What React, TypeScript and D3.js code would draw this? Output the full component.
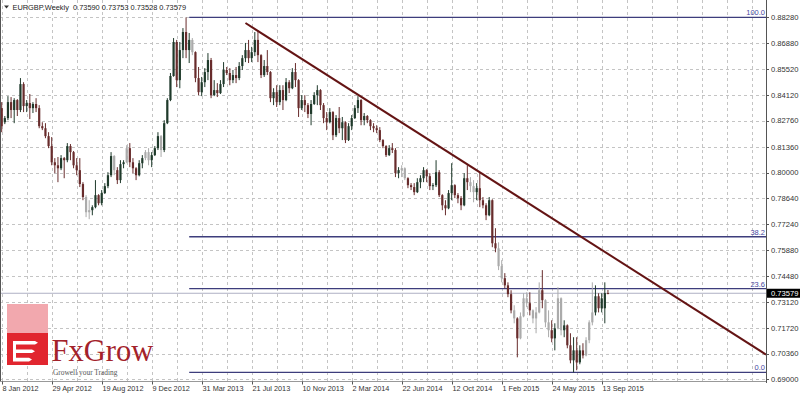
import React from "react";
import * as d3 from "d3";

// ---- Data (EURGBP weekly) ----
const opens = [0.8343,0.8268,0.8290,0.8375,0.8333,0.8386,0.8333,0.8471,0.8354,0.8370,0.8343,0.8365,0.8343,0.8247,0.8236,0.8194,0.8141,0.8055,0.8039,0.8023,0.8077,0.8066,0.8141,0.8109,0.8039,0.8013,0.7939,0.7870,0.7789,0.7800,0.7816,0.7880,0.7837,0.7891,0.7928,0.7986,0.8088,0.8013,0.7960,0.8045,0.8055,0.8130,0.8055,0.8023,0.7986,0.8050,0.8077,0.8109,0.8066,0.8093,0.8130,0.8194,0.8120,0.8263,0.8386,0.8514,0.8695,0.8492,0.8652,0.8748,0.8652,0.8706,0.8641,0.8503,0.8428,0.8481,0.8535,0.8599,0.8412,0.8439,0.8423,0.8471,0.8546,0.8530,0.8492,0.8519,0.8503,0.8567,0.8609,0.8652,0.8609,0.8641,0.8706,0.8625,0.8519,0.8567,0.8535,0.8396,0.8428,0.8375,0.8439,0.8386,0.8481,0.8449,0.8535,0.8492,0.8343,0.8386,0.8359,0.8312,0.8365,0.8412,0.8439,0.8359,0.8290,0.8268,0.8322,0.8199,0.8290,0.8236,0.8268,0.8173,0.8247,0.8290,0.8343,0.8386,0.8279,0.8301,0.8279,0.8247,0.8236,0.8226,0.8173,0.8141,0.8093,0.8130,0.8120,0.7997,0.8013,0.8023,0.7970,0.7933,0.7923,0.7896,0.7949,0.7970,0.8013,0.7981,0.7928,0.7933,0.8002,0.7880,0.7826,0.7810,0.7891,0.7933,0.7880,0.7864,0.7826,0.7970,0.7949,0.7928,0.7896,0.7917,0.7853,0.7826,0.7773,0.7853,0.7624,0.7597,0.7502,0.7438,0.7400,0.7353,0.7267,0.7224,0.7118,0.7235,0.7331,0.7305,0.7267,0.7224,0.7256,0.7374,0.7321,0.7203,0.7161,0.7118,0.7171,0.7331,0.7161,0.7187,0.7081,0.7001,0.7054,0.6990,0.7054,0.7027,0.7108,0.7203,0.7256,0.7342,0.7278,0.7278,0.73590];
const highs = [0.8375,0.8301,0.8407,0.8402,0.8396,0.8391,0.8503,0.8481,0.8386,0.8418,0.8375,0.8396,0.8359,0.8268,0.8263,0.8215,0.8189,0.8077,0.8083,0.8093,0.8083,0.8157,0.8152,0.8115,0.8077,0.8077,0.7949,0.7880,0.7853,0.7826,0.7960,0.7885,0.7907,0.7944,0.8002,0.8109,0.8093,0.8029,0.8066,0.8066,0.8146,0.8157,0.8077,0.8029,0.8066,0.8093,0.8120,0.8130,0.8109,0.8141,0.8215,0.8200,0.8279,0.8396,0.8530,0.8716,0.8706,0.8695,0.8769,0.8826,0.8743,0.8716,0.8645,0.8562,0.8509,0.8556,0.8636,0.8610,0.8492,0.8476,0.8492,0.8588,0.8562,0.8556,0.8546,0.8562,0.8588,0.8625,0.8690,0.8706,0.8669,0.8748,0.8759,0.8630,0.8599,0.8652,0.8540,0.8449,0.8465,0.8465,0.8465,0.8503,0.8492,0.8556,0.8583,0.8497,0.8412,0.8412,0.8370,0.8386,0.8428,0.8465,0.8444,0.8370,0.8322,0.8343,0.8327,0.8306,0.8349,0.8296,0.8273,0.8263,0.8306,0.8359,0.8407,0.8391,0.8317,0.8306,0.8284,0.8263,0.8252,0.8242,0.8178,0.8146,0.8146,0.8157,0.8130,0.8029,0.8039,0.8028,0.7975,0.7944,0.7944,0.7970,0.7986,0.8029,0.8018,0.7997,0.7944,0.8066,0.8013,0.7885,0.7853,0.7907,0.8050,0.7938,0.7891,0.7875,0.7997,0.8039,0.7976,0.7960,0.7944,0.8002,0.7870,0.7837,0.7870,0.7858,0.7704,0.7629,0.7534,0.7465,0.7416,0.7374,0.7294,0.7230,0.7256,0.7358,0.7363,0.7363,0.7272,0.7284,0.7416,0.7481,0.7326,0.7267,0.7214,0.7198,0.7390,0.7336,0.7214,0.7192,0.7145,0.7124,0.7124,0.7081,0.7092,0.7124,0.7214,0.7416,0.7400,0.7358,0.7358,0.7416,0.73753];
const lows = [0.8215,0.8258,0.8279,0.8290,0.8263,0.8301,0.8322,0.8322,0.8322,0.8285,0.8317,0.8322,0.8236,0.8226,0.8183,0.8130,0.8039,0.7997,0.7949,0.8013,0.7970,0.8055,0.8066,0.8023,0.7986,0.7923,0.7853,0.7763,0.7752,0.7773,0.7810,0.7826,0.7826,0.7886,0.7917,0.7976,0.7986,0.7939,0.7944,0.8023,0.8050,0.8029,0.7997,0.7960,0.7980,0.8023,0.8066,0.8039,0.8029,0.8088,0.8120,0.8083,0.8109,0.8258,0.8380,0.8510,0.8455,0.8449,0.8609,0.8609,0.8583,0.8625,0.8481,0.8412,0.8407,0.8455,0.8492,0.8396,0.8407,0.8402,0.8418,0.8455,0.8519,0.8465,0.8476,0.8476,0.8492,0.8546,0.8588,0.8583,0.8588,0.8620,0.8588,0.8503,0.8509,0.8519,0.8375,0.8359,0.8349,0.8359,0.8333,0.8380,0.8423,0.8444,0.8455,0.8296,0.8333,0.8322,0.8290,0.8252,0.8360,0.8359,0.8333,0.8263,0.8226,0.8262,0.8173,0.8189,0.8210,0.8173,0.8157,0.8168,0.8226,0.8285,0.8317,0.8252,0.8252,0.8263,0.8226,0.8215,0.8210,0.8162,0.8130,0.8083,0.8088,0.8104,0.7976,0.7970,0.7976,0.7960,0.7917,0.7907,0.7880,0.7891,0.7917,0.7949,0.7949,0.7907,0.7907,0.7923,0.7870,0.7800,0.7773,0.7805,0.7853,0.7864,0.7837,0.7800,0.7821,0.7907,0.7896,0.7842,0.7853,0.7816,0.7810,0.7747,0.7768,0.7603,0.7576,0.7481,0.7416,0.7384,0.7337,0.7251,0.7198,0.7017,0.7113,0.7230,0.7284,0.7240,0.7198,0.7145,0.7251,0.7278,0.7177,0.7124,0.7097,0.7054,0.7166,0.7134,0.7124,0.7065,0.6985,0.6937,0.6948,0.6980,0.7011,0.7022,0.7092,0.7187,0.7240,0.7256,0.7256,0.7198,0.73528];
const closes = [0.8247,0.8290,0.8375,0.8333,0.8386,0.8333,0.8471,0.8354,0.8370,0.8343,0.8365,0.8343,0.8247,0.8236,0.8194,0.8141,0.8055,0.8039,0.8023,0.8077,0.8066,0.8141,0.8109,0.8039,0.8013,0.7939,0.7870,0.7789,0.7800,0.7816,0.7880,0.7837,0.7891,0.7928,0.7986,0.8088,0.8013,0.7960,0.8045,0.8055,0.8130,0.8055,0.8023,0.7986,0.8050,0.8077,0.8109,0.8066,0.8093,0.8130,0.8194,0.8120,0.8263,0.8386,0.8514,0.8695,0.8492,0.8652,0.8748,0.8652,0.8706,0.8641,0.8503,0.8428,0.8481,0.8535,0.8599,0.8412,0.8439,0.8423,0.8471,0.8546,0.8530,0.8492,0.8519,0.8503,0.8567,0.8609,0.8652,0.8609,0.8641,0.8706,0.8625,0.8519,0.8567,0.8535,0.8396,0.8428,0.8375,0.8439,0.8386,0.8481,0.8449,0.8535,0.8492,0.8343,0.8386,0.8359,0.8312,0.8365,0.8412,0.8439,0.8359,0.8290,0.8268,0.8322,0.8199,0.8290,0.8236,0.8268,0.8173,0.8247,0.8290,0.8343,0.8386,0.8279,0.8301,0.8279,0.8247,0.8236,0.8226,0.8173,0.8141,0.8093,0.8130,0.8120,0.7997,0.8013,0.8023,0.7970,0.7933,0.7923,0.7896,0.7949,0.7970,0.8013,0.7981,0.7928,0.7933,0.8002,0.7880,0.7826,0.7810,0.7891,0.7933,0.7880,0.7864,0.7826,0.7970,0.7949,0.7928,0.7896,0.7917,0.7853,0.7826,0.7773,0.7853,0.7624,0.7597,0.7502,0.7438,0.7400,0.7353,0.7267,0.7224,0.7118,0.7235,0.7331,0.7305,0.7267,0.7224,0.7256,0.7374,0.7321,0.7203,0.7161,0.7118,0.7171,0.7331,0.7161,0.7187,0.7081,0.7001,0.7054,0.6990,0.7054,0.7027,0.7108,0.7203,0.7256,0.7342,0.7278,0.7331,0.7359,0.73579];

const priceTicks = [0.8828, 0.8688, 0.8552, 0.8412, 0.8276, 0.8136, 0.8, 0.7864, 0.7724, 0.7588, 0.7448, 0.7312, 0.7172, 0.7036, 0.69];
const dateLabels = ["8 Jan 2012", "29 Apr 2012", "19 Aug 2012", "9 Dec 2012", "31 Mar 2013", "21 Jul 2013", "10 Nov 2013", "2 Mar 2014", "22 Jun 2014", "12 Oct 2014", "1 Feb 2015", "24 May 2015", "13 Sep 2015"];
const dateLabelBars = [0, 16, 32, 48, 64, 80, 96, 112, 128, 144, 160, 176, 192];

const fibLevels = [0, 23.6, 38.2, 100];
const fibLabels = ["0.0", "23.6", "38.2", "100.0"];
const fibHighBar = 59;
const fibLowBar = 183;
const fibStartBar = 60;

const trendBars = [78, 149];
const trendPrices = [0.8796, 0.8044];

const lastPrice = 0.73579;
const titleText = "EURGBP,Weekly  0.73590 0.73753 0.73528 0.73579";

// bars drawn lighter (watermark effect in the original)
const fadedBars = [27, 28, 36, 40, 46, 47, 51, 61, 128, 129, 150, 151, 159, 160, 164, 166, 167, 168, 170, 171, 172, 174, 175, 178, 179, 187, 188, 189];

const FONT = "'Liberation Sans', Arial, sans-serif";
const SERIF = "'Liberation Serif', 'DejaVu Serif', serif";

export default function App() {
  const W = 800, H = 395;
  const plotRight = 766;
  const plotBottom = 381.5;

  const x = d3.scaleLinear().domain([0, 192]).range([1.7, 601.7]);
  const y = d3.scaleLinear().domain([0.69, 0.8828]).range([379.3, 17]);

  const gridBars = d3.range(0, Math.floor(x.invert(plotRight)) + 1, 8);
  const faded = new Set(fadedBars);

  const fibHigh = highs[fibHighBar];
  const fibLow = lows[fibLowBar];

  const endBar = x.invert(plotRight);
  const slope = (trendPrices[1] - trendPrices[0]) / (trendBars[1] - trendBars[0]);
  const trendEndPrice = trendPrices[0] + slope * (endBar - trendBars[0]);

  const bullCol = "#1f3a2b";
  const bearCol = "#682c2c";
  const fadeCol = "#ababab";
  const bodyW = 2.2;

  return (
    <svg width={W} height={H} style={{ position: "fixed", left: 0, top: 0, background: "#fff" }}>
      <rect x={0} y={0} width={W} height={H} fill="#fff" />
      {/* horizontal grid */}
      {priceTicks.map((t, i) => (
        <line key={"hg" + i} x1={0} x2={plotRight} y1={Math.round(y(t)) + 0.5} y2={Math.round(y(t)) + 0.5}
          stroke="#c4c4c4" strokeWidth={1} strokeDasharray="3,3" />
      ))}
      {/* vertical grid */}
      {gridBars.map((b) => (
        <line key={"vg" + b} x1={Math.round(x(b)) + 0.5} x2={Math.round(x(b)) + 0.5} y1={0} y2={plotBottom}
          stroke="#c4c4c4" strokeWidth={1} strokeDasharray="3,3" />
      ))}

      {/* logo */}
      <g>
        <rect x={7} y={304} width={41} height={29} fill="#f2a8ae" />
        <rect x={7} y={333} width={41} height={32} fill="#e1262f" />
        <path d="M13,341 L35,341 L38,342.8 L35,344.6 L16,344.6 L16,349.4 L32,349.4 L35,351.2 L32,353 L16,353 L16,357.8 L29,357.8 L32,359.6 L29,361.4 L13,361.4 Z" fill="#fff" />
        <text x={51.5} y={361} fontFamily={SERIF} fontSize={30.5} fill="#a3222a">FxGrow</text>
        <text x={53} y={375} fontFamily={SERIF} fontSize={7.4} fill="#555">Growell your Trading</text>
      </g>

      {/* fibonacci levels */}
      {fibLevels.map((lv, i) => {
        const p = fibLow + (fibHigh - fibLow) * lv / 100;
        const yy = y(p);
        return (
          <g key={"fib" + i}>
            <line x1={x(fibStartBar)} x2={plotRight} y1={yy} y2={yy} stroke="#3d3d7c" strokeWidth={1.3} />
            <text x={plotRight - 1} y={yy - 2} textAnchor="end" fontFamily={FONT} fontSize={7.5} fill="#4848a0">{fibLabels[i]}</text>
          </g>
        );
      })}

      {/* current price line */}
      <line x1={0} x2={plotRight} y1={y(lastPrice)} y2={y(lastPrice)} stroke="#aeb0c4" strokeWidth={1} />

      {/* candles */}
      {opens.map((o, i) => {
        const c = closes[i];
        const cx = x(i);
        const bull = c >= o;
        const col = faded.has(i) ? fadeCol : bull ? bullCol : bearCol;
        const top = y(Math.max(o, c));
        const bot = y(Math.min(o, c));
        return (
          <g key={"c" + i}>
            <line x1={cx} x2={cx} y1={y(highs[i])} y2={y(lows[i])} stroke={col} strokeWidth={1} />
            <rect x={cx - bodyW / 2} y={top} width={bodyW} height={Math.max(1, bot - top)} fill={col} />
          </g>
        );
      })}

      {/* trendline */}
      <line x1={x(trendBars[0])} y1={y(trendPrices[0])} x2={plotRight} y2={y(trendEndPrice)}
        stroke="#641414" strokeWidth={2} />

      {/* borders */}
      <line x1={0.5} x2={0.5} y1={0} y2={plotBottom} stroke="#555" strokeWidth={1} />
      <line x1={plotRight + 0.5} x2={plotRight + 0.5} y1={0} y2={plotBottom + 1.5} stroke="#555" strokeWidth={1} />
      <line x1={0} x2={plotRight} y1={plotBottom} y2={plotBottom} stroke="#999" strokeWidth={1} />

      {/* price axis */}
      {priceTicks.map((t, i) => (
        <g key={"yt" + i}>
          <line x1={plotRight} x2={plotRight + 3} y1={Math.round(y(t)) + 0.5} y2={Math.round(y(t)) + 0.5} stroke="#555" />
          <text x={plotRight + 5} y={y(t) + 2.7} fontFamily={FONT} fontSize={7.6} fill="#333">{t.toFixed(5)}</text>
        </g>
      ))}
      <rect x={plotRight + 1} y={y(lastPrice) - 4.5} width={W - plotRight - 1} height={9} fill="#000" />
      <text x={plotRight + 5} y={y(lastPrice) + 2.8} fontFamily={FONT} fontSize={7.6} fill="#fff">{lastPrice.toFixed(5)}</text>

      {/* time axis */}
      {dateLabels.map((lab, i) => {
        const gx = Math.round(x(dateLabelBars[i])) + 0.5;
        return (
          <g key={"xt" + i}>
            <line x1={gx} x2={gx} y1={plotBottom} y2={plotBottom + 3} stroke="#555" />
            <text x={gx} y={391} fontFamily={FONT} fontSize={7.3} fill="#333">{lab}</text>
          </g>
        );
      })}

      {/* title */}
      <path d="M4,5.5 L9,5.5 L6.5,8.5 Z" fill="#333" />
      <text x={12.5} y={10.2} fontFamily={FONT} fontSize={7.4} fill="#222" style={{ whiteSpace: "pre" }}>{titleText}</text>
    </svg>
  );
}
